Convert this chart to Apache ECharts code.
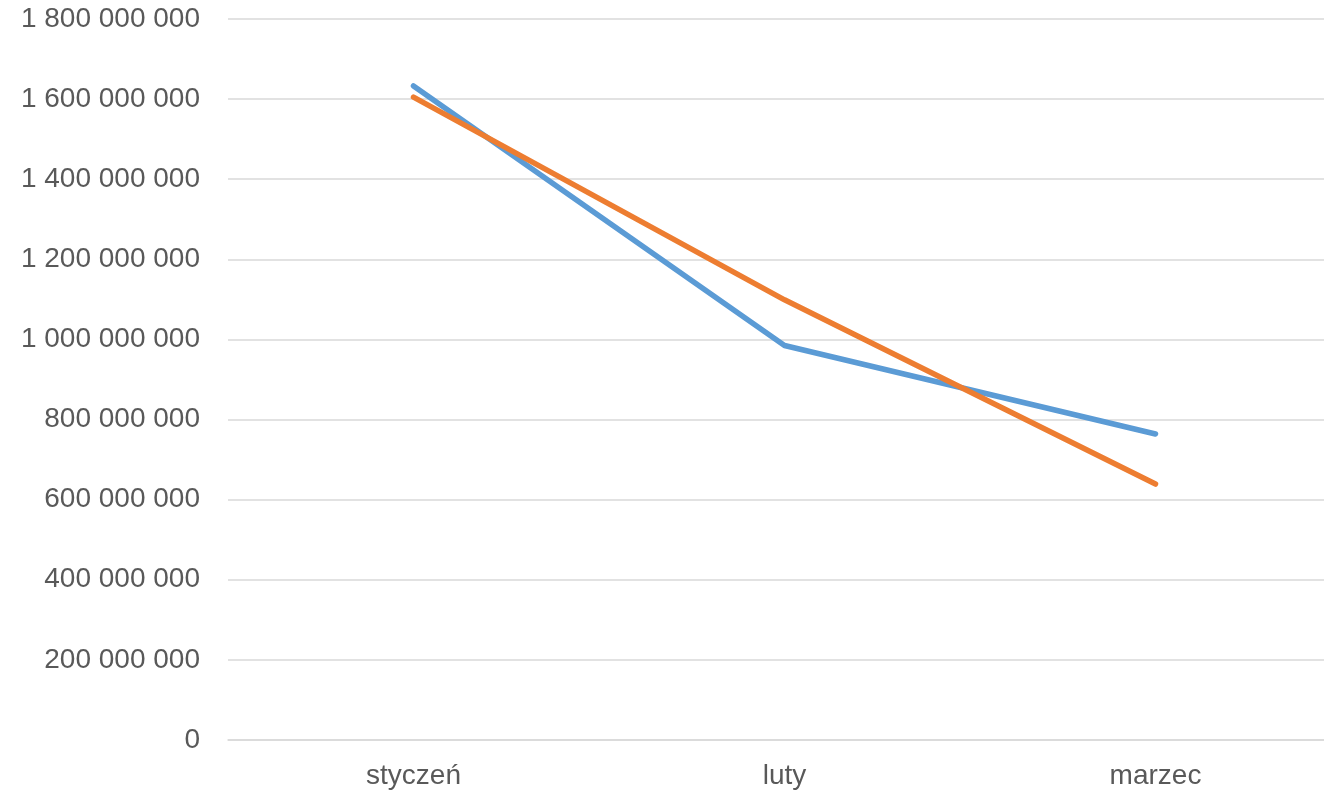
<!DOCTYPE html>
<html>
<head>
<meta charset="utf-8">
<script src="https://cdn.jsdelivr.net/npm/echarts@6/dist/echarts.min.js"></script>
<style>
html,body{margin:0;padding:0;background:#fff;overflow:hidden;width:1324px;height:795px;}
#chart{width:1341px;height:795px;}
</style>
</head>
<body>
<div id="chart"></div>
<script>
const categories = ['styczeń', 'luty', 'marzec'];
const seriesBlue = [1633000000, 985000000, 764000000];
const seriesOrange = [1605000000, 1099000000, 639000000];
const yMin = 0, yMax = 1800000000, yStep = 200000000;

function fmt(v){
  return String(Math.round(v)).replace(/\B(?=(\d{3})+(?!\d))/g, ' ');
}

const chart = echarts.init(document.getElementById('chart'));
chart.setOption({
  animation: false,
  backgroundColor: '#ffffff',
  grid: {left: 228, right: 0, top: 19, bottom: 55, containLabel: false},
  xAxis: {
    type: 'category',
    data: categories,
    boundaryGap: true,
    axisLine: {show: true, lineStyle: {color: '#D9D9D9', width: 1.5}},
    axisTick: {show: false},
    axisLabel: {color: '#595959', fontFamily: 'Liberation Sans', fontSize: 28, margin: 22}
  },
  yAxis: {
    type: 'value',
    min: yMin, max: yMax, interval: yStep,
    axisLine: {show: false},
    axisTick: {show: false},
    splitLine: {lineStyle: {color: '#D9D9D9', width: 1.5}},
    axisLabel: {color: '#595959', fontFamily: 'Liberation Sans', fontSize: 28, margin: 28, formatter: fmt}
  },
  series: [
    {type: 'line', data: seriesBlue, showSymbol: false, symbol: 'none',
     lineStyle: {color: '#5B9BD5', width: 5.5, cap: 'round', join: 'round'}, itemStyle: {color: '#5B9BD5'}},
    {type: 'line', data: seriesOrange, showSymbol: false, symbol: 'none',
     lineStyle: {color: '#ED7D31', width: 5.5, cap: 'round', join: 'round'}, itemStyle: {color: '#ED7D31'}}
  ]
});
</script>
</body>
</html>
